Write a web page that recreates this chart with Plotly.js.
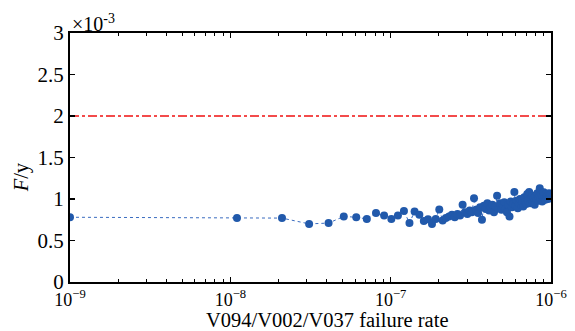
<!DOCTYPE html>
<html>
<head>
<meta charset="utf-8">
<script src="https://cdn.plot.ly/plotly-3.0.1.min.js"></script>
<style>html,body{margin:0;padding:0;background:#fff;}#chart{width:575px;height:331px;}</style>
</head>
<body>
<div id="chart"></div>
<script>
// failure rate (x) values
var failureRate = [
  1e-9, 1.1e-8, 2.1e-8, 3.1e-8, 4.1e-8, 5.1e-8, 6.1e-8, 7.1e-8, 8.1e-8, 9.1e-8,
  1.01e-7, 1.11e-7, 1.21e-7, 1.31e-7, 1.41e-7, 1.51e-7, 1.61e-7, 1.71e-7, 1.81e-7, 1.91e-7,
  2.01e-7, 2.11e-7, 2.21e-7, 2.31e-7, 2.41e-7, 2.51e-7, 2.61e-7, 2.71e-7, 2.81e-7, 2.91e-7,
  3.01e-7, 3.11e-7, 3.21e-7, 3.31e-7, 3.41e-7, 3.51e-7, 3.61e-7, 3.71e-7, 3.81e-7, 3.91e-7,
  4.01e-7, 4.11e-7, 4.21e-7, 4.31e-7, 4.41e-7, 4.51e-7, 4.61e-7, 4.71e-7, 4.81e-7, 4.91e-7,
  5.01e-7, 5.11e-7, 5.21e-7, 5.31e-7, 5.41e-7, 5.51e-7, 5.61e-7, 5.71e-7, 5.81e-7, 5.91e-7,
  6.01e-7, 6.11e-7, 6.21e-7, 6.31e-7, 6.41e-7, 6.51e-7, 6.61e-7, 6.71e-7, 6.81e-7, 6.91e-7,
  7.01e-7, 7.11e-7, 7.21e-7, 7.31e-7, 7.41e-7, 7.51e-7, 7.61e-7, 7.71e-7, 7.81e-7, 7.91e-7,
  8.01e-7, 8.11e-7, 8.21e-7, 8.31e-7, 8.41e-7, 8.51e-7, 8.61e-7, 8.71e-7, 8.81e-7, 8.91e-7,
  9.01e-7, 9.11e-7, 9.21e-7, 9.31e-7, 9.41e-7, 9.51e-7, 9.61e-7, 9.71e-7, 9.81e-7, 9.91e-7
];
// F/y values in units of 1e-3
var fPerYear = [
  0.78, 0.77, 0.77, 0.70, 0.71, 0.79, 0.78, 0.76, 0.83, 0.80,
  0.76, 0.80, 0.855, 0.71, 0.85, 0.81, 0.735, 0.755, 0.70, 0.76,
  0.875, 0.74, 0.77, 0.79, 0.81, 0.78, 0.82, 0.80, 0.93, 0.84,
  0.82, 0.86, 0.84, 1.01, 0.87, 0.83, 0.90, 0.75, 0.92, 0.88,
  0.95, 0.86, 0.90, 0.93, 0.84, 0.91, 1.04, 0.89, 0.95, 0.87,
  0.92, 0.96, 0.88, 0.84, 0.93, 0.79, 0.97, 0.90, 0.94, 1.085,
  0.92, 0.98, 0.89, 0.95, 1.00, 0.93, 0.97, 0.91, 1.02, 0.96,
  0.94, 1.06, 0.98, 1.085, 0.95, 1.00, 1.04, 0.97, 1.01, 0.93,
  1.03, 0.99, 1.07, 0.98, 1.02, 1.13, 1.00, 1.05, 0.97, 1.03,
  1.08, 1.01, 0.99, 1.06, 1.02, 1.04, 1.00, 1.07, 1.03, 1.05
];
var threshold = 2; // in units of 1e-3
var xRange = [1e-9, 1e-6];
var xTickVals = [1e-9, 1e-8, 1e-7, 1e-6];
var xTickText = ['10<sup>\u22129</sup>', '10<sup>\u22128</sup>', '10<sup>\u22127</sup>', '10<sup>\u22126</sup>'];
var yTickVals = [0, 0.5, 1, 1.5, 2, 2.5, 3];
var yTickText = ['0', '0.5', '1', '1.5', '2', '2.5', '3'];
var xTitle = 'V094/V002/V037 failure rate';
var yTitle = '<i>F</i>/y';
var yScaleLabel = '\u00d710<sup>-3</sup>';

var minorVals = [];
for (var d = -9; d < -6; d++) {
  for (var m = 2; m <= 9; m++) minorVals.push(m * Math.pow(10, d));
}

var fam = "'Times New Roman', 'Liberation Serif', 'DejaVu Serif', serif";
var xTickFont = {family: fam, size: 18, color: '#000'};
var yTickFont = {family: fam, size: 21, color: '#000'};
var titleFont = {family: fam, size: 20.5, color: '#000'};

var traces = [
  {
    x: xRange, y: [threshold, threshold], mode: 'lines',
    line: {color: '#f01010', width: 1.4, dash: 'dashdot'},
    hoverinfo: 'skip', showlegend: false
  },
  {
    x: failureRate, y: fPerYear, mode: 'lines+markers',
    line: {color: '#3a6cc0', width: 1, dash: 'dot'},
    marker: {color: '#2159ab', size: 8},
    showlegend: false
  }
];

var layout = {
  width: 575, height: 331,
  margin: {l: 70, r: 24, t: 33, b: 49},
  paper_bgcolor: '#fff', plot_bgcolor: '#fff',
  font: {family: fam, size: 19, color: '#000'},
  showlegend: false,
  xaxis: {
    type: 'log',
    range: [Math.log10(xRange[0]), Math.log10(xRange[1])],
    tickmode: 'array', tickvals: xTickVals, ticktext: xTickText,
    ticks: 'inside', ticklen: 5, tickwidth: 1.2, tickcolor: '#000',
    minor: {tickmode: 'array', tickvals: minorVals, ticks: 'inside', ticklen: 3, tickwidth: 1, tickcolor: '#000'},
    showline: true, linecolor: '#000', linewidth: 2, mirror: 'allticks',
    showgrid: false, zeroline: false,
    tickfont: xTickFont
  },
  yaxis: {
    range: [0, 3],
    tickmode: 'array', tickvals: yTickVals, ticktext: yTickText,
    ticks: 'inside', ticklen: 5, tickwidth: 1.2, tickcolor: '#000',
    showline: true, linecolor: '#000', linewidth: 2, mirror: 'allticks',
    showgrid: false, zeroline: false,
    tickfont: yTickFont
  },
  annotations: [
    {
      xref: 'paper', yref: 'paper', x: 0, y: 1, xanchor: 'left', yanchor: 'bottom',
      text: yScaleLabel, showarrow: false, font: {family: fam, size: 20, color: '#000'},
      xshift: 0, yshift: -4
    },
    {
      xref: 'paper', yref: 'paper', x: 0.536, y: -0.152, xanchor: 'center', yanchor: 'middle',
      text: xTitle, showarrow: false, font: titleFont
    },
    {
      xref: 'paper', yref: 'paper', x: -0.102, y: 0.42, xanchor: 'center', yanchor: 'middle',
      text: yTitle, showarrow: false, textangle: -90, font: titleFont
    }
  ]
};

Plotly.newPlot('chart', traces, layout, {displayModeBar: false, staticPlot: true});
</script>
</body>
</html>
